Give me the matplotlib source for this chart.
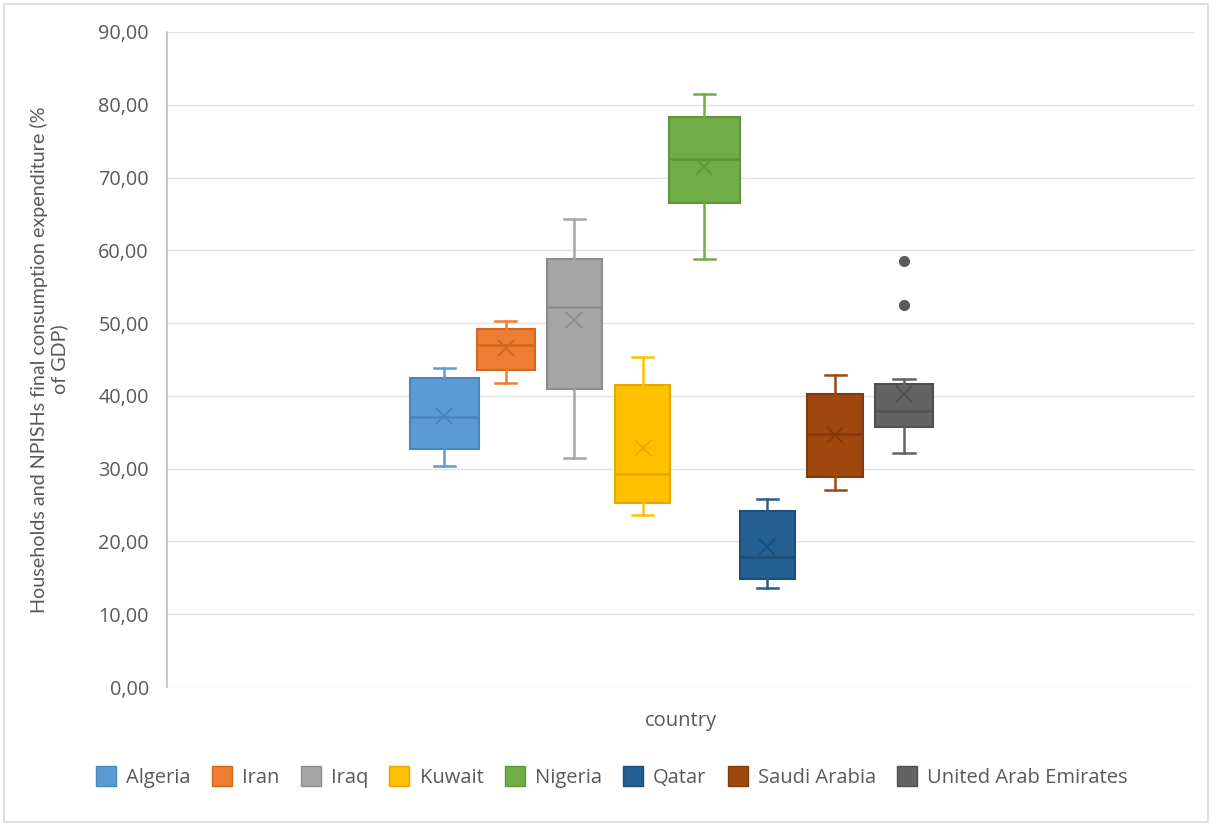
import matplotlib.pyplot as plt
from matplotlib.patches import Patch, Rectangle

# ---------------------------------------------------------------- data
paises = ["Algeria", "Iran", "Iraq", "Kuwait", "Nigeria", "Qatar", "Saudi Arabia", "United Arab Emirates"]
bigote_inf = [30.3, 41.8, 31.4, 23.7, 58.8, 13.6, 27.1, 32.2]
q1 = [32.7, 43.6, 40.9, 25.3, 66.5, 14.9, 28.8, 35.7]
mediana = [37.1, 47.0, 52.2, 29.2, 72.6, 17.9, 34.7, 37.9]
q3 = [42.4, 49.2, 58.8, 41.5, 78.3, 24.2, 40.2, 41.6]
bigote_sup = [43.8, 50.3, 64.3, 45.4, 81.5, 25.8, 42.9, 42.3]
media = [37.2, 46.6, 50.4, 32.9, 71.4, 19.3, 34.6, 40.3]
atipicos = [[], [], [], [], [], [], [], [58.5, 52.5]]

colores = ["#5B9BD5", "#ED7D31", "#A5A5A5", "#FFC000", "#70AD47", "#255E91", "#9E480E", "#636363"]
bordes = ["#4A85BC", "#D0691F", "#8C8C8C", "#E0A800", "#5E9639", "#1E4D78", "#84390A", "#505050"]

stats = []
for i in range(len(paises)):
    stats.append({"label": paises[i], "whislo": bigote_inf[i], "q1": q1[i], "med": mediana[i],
                  "q3": q3[i], "whishi": bigote_sup[i], "mean": media[i], "fliers": atipicos[i]})

# posiciones y anchos de las cajas (como en la imagen original)
posiciones = [0.0, 0.94, 1.98, 3.02, 3.96, 4.92, 5.95, 7.0]
anchos = [1.05, 0.87, 0.84, 0.84, 1.08, 0.83, 0.85, 0.88]

# ---------------------------------------------------------------- figure
fig = plt.figure(figsize=(12.13, 8.25), dpi=100)
ax = fig.add_axes([167 / 1213, 138 / 825, (1195 - 167) / 1213, (687 - 32) / 825])

b = ax.bxp(stats, positions=posiciones, widths=anchos, capwidths=0.32, patch_artist=True,
           showmeans=True, showfliers=True)

for i in range(len(paises)):
    b["boxes"][i].set_facecolor(colores[i])
    b["boxes"][i].set_edgecolor(bordes[i])
    b["boxes"][i].set_linewidth(1.5)
    b["medians"][i].set_color(bordes[i])
    b["medians"][i].set_linewidth(1.8)
    for w in b["whiskers"][2 * i:2 * i + 2] + b["caps"][2 * i:2 * i + 2]:
        w.set_color(colores[i])
        w.set_linewidth(1.8)
    b["means"][i].set(marker="x", markersize=12, markeredgewidth=1.3,
                      markeredgecolor=bordes[i], markerfacecolor="none")
    b["fliers"][i].set(marker="o", markersize=7, markerfacecolor="#595959",
                       markeredgecolor="#595959")

ax.set_xlim(-4.22, 11.43)
ax.set_ylim(0, 90)
ax.set_yticks(range(0, 91, 10))
ax.set_yticklabels(["{:.2f}".format(v).replace(".", ",") for v in range(0, 91, 10)],
                   fontsize=14.3, color="#595959", family="Open Sans")
ax.set_xticks([])
ax.tick_params(axis="y", length=0, pad=13)
ax.grid(axis="y", color="#E3E3E3", linewidth=1)
ax.set_axisbelow(True)
for s in ["top", "right", "bottom"]:
    ax.spines[s].set_visible(False)
ax.spines["left"].set_color("#BFBFBF")
ax.spines["left"].set_linewidth(1.2)

ax.set_ylabel("Households and NPISHs final consumption expenditure (%\nof GDP)",
              fontsize=14.2, color="#595959", family="Lato", labelpad=22, linespacing=1.1)
ax.set_xlabel("country", fontsize=14.5, color="#595959", family="Open Sans", labelpad=17)

manejadores = [Patch(facecolor=colores[i], edgecolor=bordes[i], label=paises[i]) for i in range(len(paises))]
fig.legend(handles=manejadores, loc="center", bbox_to_anchor=(612 / 1213, 1 - 777 / 825), ncol=8,
           frameon=False, prop={"family": "Open Sans", "size": 14.5}, labelcolor="#595959",
           handlelength=1.0, handleheight=1.1, handletextpad=0.5, columnspacing=1.05)

fig.patches.append(Rectangle((4 / 1213, 3 / 825), 1204 / 1213, 818 / 825, transform=fig.transFigure,
                             fill=False, edgecolor="#D9D9D9", linewidth=1.2))

plt.savefig("out.png", dpi=100)
plt.close()
